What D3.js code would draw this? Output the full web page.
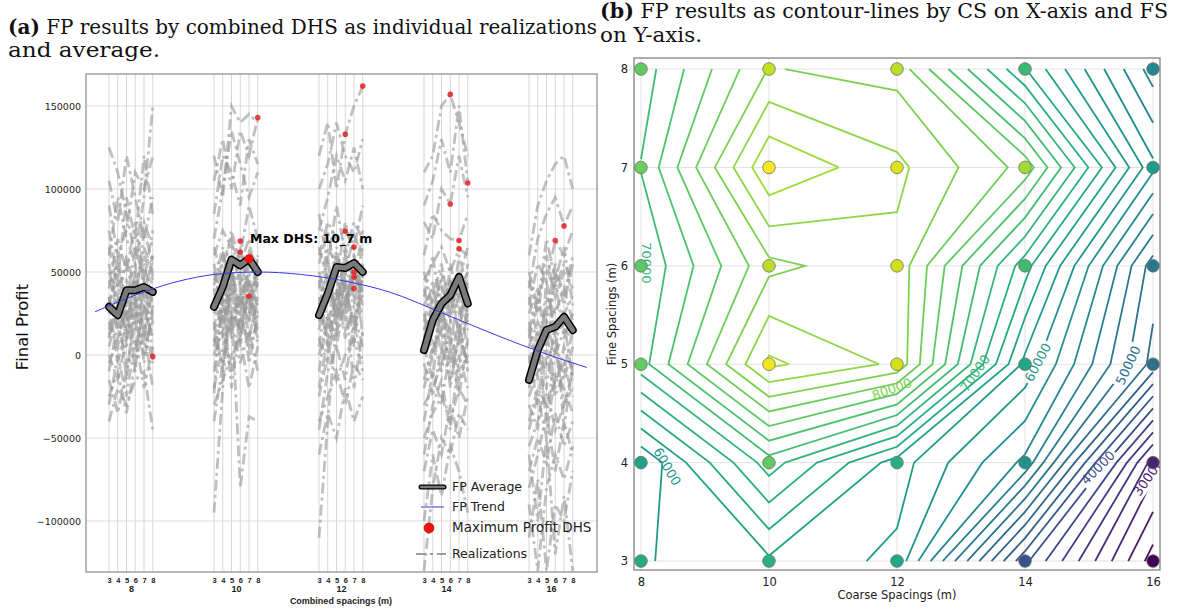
<!DOCTYPE html>
<html>
<head>
<meta charset="utf-8">
<script src="https://cdn.jsdelivr.net/npm/d3@7"></script>
<style>
  body { margin: 0; background: #fff; }
  text { font-family: "DejaVu Sans", sans-serif; }
</style>
</head>
<body>
<svg id="chart" width="1178" height="611"></svg>
<script>
// ---------- data: panel (a) ----------
var groups = [8, 10, 12, 14, 16];          // coarse spacing groups
var fineSpacings = [3, 4, 5, 6, 7, 8];
var yTicks = [-100000, -50000, 0, 50000, 100000, 150000];

// FP average per group (thousands), fine spacing 3..8
var avg8  = [29, 24, 39, 39, 41, 38];
var avg10 = [29, 41, 57.5, 54, 58, 50];
var avg12 = [24, 37, 53, 52.4, 55.4, 50];
var avg14 = [3, 21, 31, 36, 47, 31];
var avg16 = [-15, 3, 15, 17, 23, 15];

// individual realizations (thousands)
var real8 = [
  [125, 110, 85, 60, 95, 150], [105, 80, 120, 95, 70, 95], [90, 60, 75, 110, 100, 120],
  [60, 95, 70, 55, 80, 65], [45, 30, 60, 40, 65, 50], [30, 55, 20, 45, 35, 60],
  [20, 5, 35, 15, 40, 25], [10, 35, 15, 30, 5, 20], [0, -15, 10, 25, 20, -5],
  [-10, 20, -5, 0, 30, 10], [-25, -10, -35, -5, 15, -20], [-40, -20, -30, -15, -10, -45],
  [40, 70, 50, 80, 45, 75], [75, 45, 95, 70, 120, 85], [15, 45, 5, 55, 10, 40],
  [55, 25, 40, 20, 55, 30], [-30, 0, -25, 10, -20, 5], [35, 15, 25, 5, 28, 12],
  [5, 25, 45, 35, 15, 50], [50, 35, 10, 40, 60, 45], [-15, -35, -10, 20, 0, 25],
  [25, 60, 30, 65, 45, 20], [65, 40, 55, 30, 75, 55], [-5, 10, 30, -10, 45, 0],
  [35, -5, 20, 50, 25, 60], [12, 30, -15, 35, -5, 30]
];
var real10 = [
  [-95, -20, 50, 30, 60, 45], [-23, 40, 30, -80, -37, -40], [120, 95, 150, 140, 145, 140],
  [105, 130, 100, 135, 120, 143], [85, 120, 110, 90, 130, 115], [70, 100, 135, 115, 95, 110],
  [60, 75, 65, 60, 90, 70], [45, 55, 70, 40, 62, 55], [35, 20, 45, 65, 40, 30],
  [25, 40, 10, 35, 20, 45], [10, -5, 25, 15, 35, 10], [0, 15, -10, 25, 5, 20],
  [-20, 5, 20, -5, 15, -10], [-30, -15, 0, 10, -20, 5], [50, 30, 55, 20, 36, 25],
  [15, 50, 35, 50, 25, 60], [5, 25, 40, 5, 45, 30], [40, 10, 60, 45, 10, 35],
  [30, 60, 45, 25, 55, 40], [-10, 30, 15, 40, -5, 25], [55, 20, 35, 60, 30, 50],
  [20, -10, 50, 10, 45, 15], [-40, -5, 25, 35, 20, 60], [65, 45, 75, 55, 70, 40],
  [8, 35, -20, 20, 10, 35], [42, 65, 20, 30, 50, 5]
];
var real12 = [
  [-110, -40, 20, 45, 30, 55], [120, 140, 100, 133, 150, 162], [100, 115, 140, 120, 110, 130],
  [75, 95, 120, 105, 125, 100], [60, 80, 70, 75, 65, 90], [40, 65, 55, 50, 72, 60],
  [30, 50, 20, 65, 45, 40], [20, 35, 45, 30, 55, 35], [10, -5, 30, 15, 25, 5],
  [0, 20, 5, 35, -20, 15], [-20, 10, -15, 0, 10, -10], [-40, -25, -10, -30, -5, -15],
  [-60, -35, -50, -20, -40, -25], [50, 30, 60, 40, 20, 48], [85, 55, 90, 60, 80, 70],
  [15, 45, 25, 55, 35, 25], [35, 5, 40, 20, 50, 30], [-10, 25, 10, 45, 15, 40],
  [45, 20, 35, 60, 40, 65], [-25, 0, 40, 10, 30, 20], [25, 60, 15, 45, 5, 55],
  [5, 40, 50, 25, 60, 10], [65, 45, 30, 50, 35, 45], [-45, -10, 5, -15, 20, -5],
  [30, 10, 65, 35, 45, 75], [55, 75, 45, 80, 60, 35]
];
var real14 = [
  [110, 120, 150, 157, 140, 120], [90, 105, 130, 110, 150, 104], [80, 70, 100, 91, 120, 95],
  [60, 85, 75, 70, 69, 85], [45, 55, 65, 50, 64, 60], [30, 40, 20, 45, 35, 50],
  [15, 25, 40, 30, 50, 20], [0, 10, -10, 20, 5, 25], [-15, 5, 15, -5, 20, -10],
  [-30, -20, -5, 10, -15, 0], [-50, -35, -25, -40, -20, -30], [-70, -45, -60, -30, -50, -25],
  [-130, -80, -50, -60, -35, -45], [-100, -60, -85, -55, -70, -95], [25, 0, 30, 5, 40, 15],
  [40, 20, 50, 35, 15, 45], [10, 30, 0, 40, 25, 35], [-5, -25, 5, -15, 10, -5],
  [20, 45, 10, 55, 30, 5], [-20, 0, 25, 15, -10, 30], [50, 30, 45, 20, 60, 40],
  [5, -15, 35, -20, 15, -5], [-40, -10, -30, 5, -25, 10], [35, 60, 25, 45, 10, 55],
  [-60, -30, -15, -45, 0, -20], [15, 35, 55, 25, 45, 65]
];
var real16 = [
  [60, 90, 105, 115, 120, 100], [40, 70, 85, 95, 78, 90], [30, 55, 45, 69, 60, 75],
  [15, 35, 50, 40, 55, 45], [5, 20, 10, 30, 25, 35], [-10, 5, 20, 0, 15, 10],
  [-25, -10, -5, 10, -15, 5], [-40, -20, -30, -15, -5, -25], [-55, -40, -20, -45, -30, -10],
  [-70, -50, -65, -35, -55, -40], [-90, -130, -80, -60, -75, -55], [-110, -75, -130, -90, -100, -70],
  [-60, -100, -50, -120, -85, -130], [20, -5, 35, 25, 40, 20], [45, 25, 60, 35, 50, 40],
  [-20, 10, -40, 5, -30, -20], [0, -30, 15, -20, 5, -10], [25, 40, 0, 50, 30, 55],
  [10, 30, 20, 45, 10, 25], [-30, -45, 0, -25, -10, 15], [35, 10, 25, 55, 35, 60],
  [-5, 15, -20, 20, -45, -5], [-45, -25, -50, -10, -20, -35], [50, 30, 70, 45, 65, 30],
  [-80, -60, -35, -70, -40, -60], [15, -15, 45, 10, 20, -15]
];

// maximum profit DHS per realization (group, fine spacing, thousands)
var maxCS = [8, 10, 10, 10, 10, 12, 12, 12, 12, 12, 12, 12, 14, 14, 14, 14, 14, 16, 16];
var maxFS = [8, 6, 6, 7, 8, 8, 6, 6, 7, 7, 7, 7, 6, 8, 6, 7, 7, 7, 6];
var maxFP = [-1, 68.7, 62, 35.5, 143, 162, 133, 74.7, 65, 50, 47, 40, 157, 103.6, 91, 69, 64, 77.7, 69];

// FP trend (x = combined index, thousands)
var trendX = [-1.6, 4, 8, 12, 17, 22, 27, 32, 38, 44, 50, 54.6];
var trendY = [26, 38, 44.5, 48.5, 50, 48.5, 44.5, 38, 25.5, 12.5, 0.5, -7.5];

// ---------- data: panel (b) ----------
var coarse = [8, 10, 12, 14, 16];
var fine = [3, 4, 5, 6, 7, 8];
var fpFs3 = [61800, 63600, 61500, 40500, 25000];
var fpFs4 = [60200, 71000, 63000, 55500, 31000];
var fpFs5 = [71150, 84450, 81600, 61400, 47300];
var fpFs6 = [70200, 79450, 81400, 66900, 49000];
var fpFs7 = [72100, 85800, 82500, 77300, 58500];
var fpFs8 = [70900, 80100, 79300, 66100, 53000];
var levels = d3.range(26000, 86000, 2000);

// inline contour labels
var labelLevel = [70000, 60000, 80000, 70000, 60000, 50000, 40000, 30000];
var labelCS    = [8.09, 8.41, 11.92, 13.22, 14.2, 15.61, 15.14, 15.92];
var labelFS    = [6.03, 3.96, 4.75, 4.91, 5.02, 4.99, 3.95, 3.85];
var labelAngle = [90, 60, -20, -55, -62, -65, -45, -55];

var svg = d3.select("#chart");
var defs = svg.append("defs");

// ---------- titles ----------
function title(x, y, bold, rest, len) {
  var t = svg.append("text").attr("x", x).attr("y", y)
    .style("font-family", "'DejaVu Serif', serif").style("font-size", "19.5px")
    .attr("fill", "#111")
    .attr("textLength", len).attr("lengthAdjust", "spacingAndGlyphs");
  if (bold) t.append("tspan").style("font-weight", "bold").text(bold);
  t.append("tspan").text(rest);
}
title(8, 34, "(a)", " FP results by combined DHS as individual realizations", 589);
title(8, 57, null, "and average.", 152);
title(600, 18, "(b)", " FP results as contour-lines by CS on X-axis and FS", 568);
title(600, 42, null, "on Y-axis.", 102);

// ================= panel (a) =================
var L = {left: 86, right: 597, top: 74, bottom: 572};
var xL = d3.scaleLinear().domain([-2.63, 55.77]).range([L.left, L.right]);
var yL = d3.scaleLinear().domain([-130723, 169277]).range([L.bottom, L.top]);
function idx(cs, fs) { return groups.indexOf(cs) * 12 + (fs - 3); }
var allIdx = [];
groups.forEach(function(g) { fineSpacings.forEach(function(f) { allIdx.push(idx(g, f)); }); });

defs.append("clipPath").attr("id", "clipL").append("rect")
  .attr("x", L.left).attr("y", L.top).attr("width", L.right - L.left).attr("height", L.bottom - L.top);

var gA = svg.append("g");
gA.selectAll(".hgrid").data(yTicks).enter().append("line")
  .attr("x1", L.left).attr("x2", L.right)
  .attr("y1", function(d) { return yL(d); }).attr("y2", function(d) { return yL(d); })
  .attr("stroke", "#dcdcdc").attr("stroke-width", 1);
gA.selectAll(".vgrid").data(allIdx).enter().append("line")
  .attr("x1", function(d) { return xL(d); }).attr("x2", function(d) { return xL(d); })
  .attr("y1", L.top).attr("y2", L.bottom)
  .attr("stroke", "#d6d6d6").attr("stroke-width", 1);

var plotA = gA.append("g").attr("clip-path", "url(#clipL)");
var realLine = d3.line()
  .x(function(d, i) { return xL(d.x); })
  .y(function(d) { return yL(d.y * 1000); });

var realSets = [real8, real10, real12, real14, real16];
realSets.forEach(function(set, gi) {
  set.forEach(function(row) {
    var pts = row.map(function(v, i) { return {x: idx(groups[gi], fineSpacings[i]), y: v}; });
    plotA.append("path").attr("d", realLine(pts))
      .attr("fill", "none").attr("stroke", "#9a9a9a").attr("stroke-opacity", 0.62)
      .attr("stroke-width", 2.8).attr("stroke-dasharray", "11,4,3,4");
  });
});

// FP average
var avgSets = [avg8, avg10, avg12, avg14, avg16];
avgSets.forEach(function(row, gi) {
  var pts = row.map(function(v, i) { return {x: idx(groups[gi], fineSpacings[i]), y: v}; });
  plotA.append("path").attr("d", realLine(pts)).attr("fill", "none")
    .attr("stroke", "#000").attr("stroke-width", 8).attr("stroke-linejoin", "round").attr("stroke-linecap", "round");
  plotA.append("path").attr("d", realLine(pts)).attr("fill", "none")
    .attr("stroke", "#7a7a7a").attr("stroke-width", 5).attr("stroke-linejoin", "round").attr("stroke-linecap", "round");
});

// FP trend
var trendPts = trendX.map(function(x, i) { return {x: x, y: trendY[i]}; });
plotA.append("path").attr("d", realLine.curve(d3.curveMonotoneX)(trendPts))
  .attr("fill", "none").attr("stroke", "#3a3ae0").attr("stroke-width", 1);
realLine.curve(d3.curveLinear);

// max profit DHS dots
plotA.selectAll(".maxdot").data(maxFP).enter().append("circle")
  .attr("cx", function(d, i) { return xL(idx(maxCS[i], maxFS[i])); })
  .attr("cy", function(d) { return yL(d * 1000); })
  .attr("r", 2.8).attr("fill", "#e3161b").attr("fill-opacity", 0.8);

// highlighted max of the average
var bestG = 0, bestI = 0, bestV = -Infinity;
avgSets.forEach(function(row, gi) { row.forEach(function(v, i) { if (v > bestV) { bestV = v; bestG = gi; bestI = i; } }); });
plotA.append("circle").attr("cx", xL(idx(groups[bestG], fineSpacings[bestI]))).attr("cy", yL(bestV * 1000))
  .attr("r", 4.5).attr("fill", "#f01010");
gA.append("text").attr("x", xL(idx(groups[bestG], fineSpacings[bestI])) + 1).attr("y", yL(bestV * 1000) - 16)
  .style("font-size", "12.5px").style("font-weight", "bold").attr("fill", "#000")
  .text("Max DHS: " + groups[bestG] + "_" + fineSpacings[bestI] + " m");

// frame
gA.append("rect").attr("x", L.left).attr("y", L.top).attr("width", L.right - L.left).attr("height", L.bottom - L.top)
  .attr("fill", "none").attr("stroke", "#8a8a8a").attr("stroke-width", 1.2);

// y axis
var yAxisA = gA.append("g").attr("transform", "translate(" + L.left + ",0)")
  .call(d3.axisLeft(yL).tickValues(yTicks).tickSize(0).tickPadding(5).tickFormat(d3.format("d")));
yAxisA.select(".domain").remove();
yAxisA.selectAll("text").style("font-family", "'DejaVu Sans'").style("font-size", "9.5px").attr("fill", "#222");

gA.append("text").attr("transform", "translate(28," + ((L.top + L.bottom) / 2 + 4) + ") rotate(-90)")
  .attr("text-anchor", "middle").style("font-size", "16.5px").attr("fill", "#111").text("Final Profit");

// x axis: fine spacing digits, group numbers, title
var xAxisA = gA.append("g").attr("transform", "translate(0," + L.bottom + ")")
  .call(d3.axisBottom(xL).tickValues(allIdx).tickSize(0).tickPadding(6)
    .tickFormat(function(d) { return fineSpacings[d % 12]; }));
xAxisA.select(".domain").remove();
xAxisA.selectAll("text").style("font-family", "'Liberation Sans', Arial").style("font-size", "7.5px")
  .style("font-weight", "bold").attr("fill", "#222");
var xAxisG = gA.append("g").attr("transform", "translate(0," + (L.bottom + 12) + ")")
  .call(d3.axisBottom(xL).tickValues(groups.map(function(g) { return idx(g, 5.5); })).tickSize(0).tickPadding(2)
    .tickFormat(function(d, i) { return groups[i]; }));
xAxisG.select(".domain").remove();
xAxisG.selectAll("text").style("font-family", "'Liberation Sans', Arial").style("font-size", "9px")
  .style("font-weight", "bold").attr("fill", "#222");
gA.append("text").attr("x", xL(idx(12, 5.5))).attr("y", 604).attr("text-anchor", "middle")
  .style("font-family", "'Liberation Sans', Arial").style("font-size", "9px").style("font-weight", "bold")
  .attr("fill", "#222").text("Combined spacings (m)");

// legend
var lg = gA.append("g").style("font-family", "'Liberation Sans', Arial").attr("fill", "#222");
lg.append("line").attr("x1", 421).attr("x2", 444).attr("y1", 487).attr("y2", 487)
  .attr("stroke", "#000").attr("stroke-width", 5).attr("stroke-linecap", "round");
lg.append("line").attr("x1", 421).attr("x2", 444).attr("y1", 487).attr("y2", 487)
  .attr("stroke", "#7a7a7a").attr("stroke-width", 2.5).attr("stroke-linecap", "round");
lg.append("text").attr("x", 452).attr("y", 491).style("font-size", "12.5px").text("FP Average");
lg.append("line").attr("x1", 421).attr("x2", 444).attr("y1", 507).attr("y2", 507)
  .attr("stroke", "#3a3ae0").attr("stroke-width", 1);
lg.append("text").attr("x", 452).attr("y", 511).style("font-size", "12.5px").text("FP Trend");
lg.append("circle").attr("cx", 429).attr("cy", 528).attr("r", 5).attr("fill", "#f01010").attr("stroke", "#a00").attr("stroke-width", 0.6);
lg.append("text").attr("x", 452).attr("y", 532).style("font-size", "13.5px").text("Maximum Profit DHS");
lg.append("line").attr("x1", 416).attr("x2", 446).attr("y1", 554).attr("y2", 554)
  .attr("stroke", "#9c9c9c").attr("stroke-width", 2.2).attr("stroke-dasharray", "10,4,3,4");
lg.append("text").attr("x", 452).attr("y", 558).style("font-size", "12.5px").text("Realizations");

// ================= panel (b) =================
var R = {left: 634, right: 1160, top: 58, bottom: 570};
var xR = d3.scaleLinear().domain([7.891, 16.109]).range([R.left, R.right]);
var yR = d3.scaleLinear().domain([2.909, 8.112]).range([R.bottom, R.top]);
var gridRows = [fpFs3, fpFs4, fpFs5, fpFs6, fpFs7, fpFs8];
var values = [].concat.apply([], gridRows);
var fpExtent = d3.extent(values);
var pointColor = d3.scaleSequential(d3.interpolateViridis).domain(fpExtent);
var lineColor = d3.scaleSequential(d3.interpolateViridis).domain([23000, 94000]);
// grid units (values sit at cell centres) -> spacings
var gxToCS = d3.scaleLinear().domain([0.5, coarse.length - 0.5]).range([coarse[0], coarse[coarse.length - 1]]);
var gyToFS = d3.scaleLinear().domain([0.5, fine.length - 0.5]).range([fine[0], fine[fine.length - 1]]);

defs.append("clipPath").attr("id", "clipR").append("rect")
  .attr("x", R.left).attr("y", R.top).attr("width", R.right - R.left).attr("height", R.bottom - R.top);

var gB = svg.append("g");
gB.selectAll(".vg").data(coarse).enter().append("line")
  .attr("x1", function(d) { return xR(d); }).attr("x2", function(d) { return xR(d); })
  .attr("y1", R.top).attr("y2", R.bottom).attr("stroke", "#e2e2e2");
gB.selectAll(".hg").data(fine).enter().append("line")
  .attr("y1", function(d) { return yR(d); }).attr("y2", function(d) { return yR(d); })
  .attr("x1", R.left).attr("x2", R.right).attr("stroke", "#e2e2e2");

var contours = d3.contours().size([coarse.length, fine.length]).thresholds(levels)(values);

// split a closed ring into open polylines that stay inside the data grid
function ringToLines(ring) {
  var eps = 1e-6;
  var pts = ring.slice(0, ring.length - 1);
  var ins = pts.map(function(p) {
    return p[0] >= 0.5 - eps && p[0] <= coarse.length - 0.5 + eps &&
           p[1] >= 0.5 - eps && p[1] <= fine.length - 0.5 + eps;
  });
  var start = ins.indexOf(false);
  if (start < 0) return [pts.concat([pts[0]])];
  var lines = [], cur = [];
  for (var k = 1; k <= pts.length; k++) {
    var j = (start + k) % pts.length;
    if (ins[j]) cur.push(pts[j]);
    else { if (cur.length > 1) lines.push(cur); cur = []; }
  }
  if (cur.length > 1) lines.push(cur);
  return lines;
}
var cLine = d3.line()
  .x(function(p) { return xR(gxToCS(p[0])); })
  .y(function(p) { return yR(gyToFS(p[1])); });

var plotB = gB.append("g").attr("clip-path", "url(#clipR)");
contours.forEach(function(c) {
  var lv = c.value;
  var labs = [];
  labelLevel.forEach(function(v, i) { if (v === lv) labs.push(i); });
  var g = plotB.append("g");
  if (labs.length) {
    var m = defs.append("mask").attr("id", "mask" + lv).attr("maskUnits", "userSpaceOnUse")
      .attr("x", 0).attr("y", 0).attr("width", 1178).attr("height", 611);
    m.append("rect").attr("width", 1178).attr("height", 611).attr("fill", "#fff");
    labs.forEach(function(i) {
      m.append("rect").attr("x", -23).attr("y", -8).attr("width", 46).attr("height", 16).attr("fill", "#000")
        .attr("transform", "translate(" + xR(labelCS[i]) + "," + yR(labelFS[i]) + ") rotate(" + labelAngle[i] + ")");
    });
    g.attr("mask", "url(#mask" + lv + ")");
  }
  c.coordinates.forEach(function(poly) {
    poly.forEach(function(ring) {
      ringToLines(ring).forEach(function(line) {
        g.append("path").attr("d", cLine(line)).attr("fill", "none")
          .attr("stroke", lineColor(lv)).attr("stroke-width", 1.8).attr("stroke-linejoin", "miter");
      });
    });
  });
});

// contour labels
plotB.selectAll(".clab").data(labelLevel).enter().append("text")
  .attr("transform", function(d, i) { return "translate(" + xR(labelCS[i]) + "," + yR(labelFS[i]) + ") rotate(" + labelAngle[i] + ")"; })
  .attr("text-anchor", "middle").attr("dy", "0.35em")
  .style("font-size", "13px").attr("fill", function(d) { return lineColor(d); })
  .text(function(d) { return d; });

// scatter points
var pts = [];
gridRows.forEach(function(row, j) { row.forEach(function(v, i) { pts.push({cs: coarse[i], fs: fine[j], v: v}); }); });
plotB.selectAll(".pt").data(pts).enter().append("circle")
  .attr("cx", function(d) { return xR(d.cs); }).attr("cy", function(d) { return yR(d.fs); })
  .attr("r", 6.3).attr("fill", function(d) { return pointColor(d.v); })
  .attr("stroke", "#6e6e6e").attr("stroke-width", 0.8);

gB.append("rect").attr("x", R.left).attr("y", R.top).attr("width", R.right - R.left).attr("height", R.bottom - R.top)
  .attr("fill", "none").attr("stroke", "#777").attr("stroke-width", 1.2);

var xAxisB = gB.append("g").attr("transform", "translate(0," + R.bottom + ")")
  .call(d3.axisBottom(xR).tickValues(coarse).tickSize(0).tickPadding(8).tickFormat(d3.format("d")));
xAxisB.select(".domain").remove();
xAxisB.selectAll("text").style("font-size", "11.5px").attr("fill", "#222");
var yAxisB = gB.append("g").attr("transform", "translate(" + R.left + ",0)")
  .call(d3.axisLeft(yR).tickValues(fine).tickSize(0).tickPadding(6).tickFormat(d3.format("d")));
yAxisB.select(".domain").remove();
yAxisB.selectAll("text").style("font-size", "11.5px").attr("fill", "#222");

gB.append("text").attr("x", (R.left + R.right) / 2).attr("y", 599).attr("text-anchor", "middle")
  .style("font-size", "11.5px").attr("fill", "#222").text("Coarse Spacings (m)");
gB.append("text").attr("transform", "translate(616," + ((R.top + R.bottom) / 2) + ") rotate(-90)")
  .attr("text-anchor", "middle").style("font-size", "11.5px").attr("fill", "#222").text("Fine Spacings (m)");
</script>
</body>
</html>
